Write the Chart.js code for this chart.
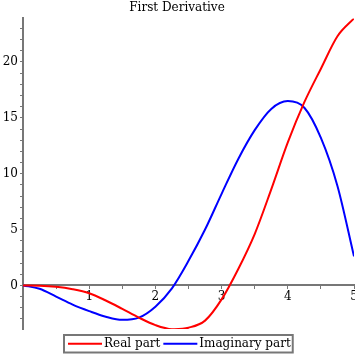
<!DOCTYPE html>
<html><head><meta charset="utf-8">
<script src="https://cdn.jsdelivr.net/npm/chart.js@4"></script>
<style>html,body{margin:0;padding:0;background:#fff}</style>
</head><body>
<canvas id="c" width="355" height="355"></canvas>
<script>
const chartTitle = 'First Derivative';
const seriesNames = ['Real part', 'Imaginary part'];
const xValues  = [0, 0.25, 0.5, 0.75, 1, 1.25, 1.5, 1.75, 2, 2.25, 2.5, 2.75, 3, 3.25, 3.5, 3.75, 4, 4.25, 4.5, 4.75, 5];
const realPart = [0, -0.02, -0.12, -0.34, -0.7, -1.35, -2.1, -2.88, -3.55, -3.92, -3.78, -3.15, -1.25, 1.45, 4.6, 8.6, 12.8, 16.4, 19.4, 22.3, 23.9];
const imagPart = [0, -0.3, -1.0, -1.72, -2.3, -2.8, -3.08, -2.88, -1.9, -0.26, 2.2, 5.0, 8.2, 11.3, 13.9, 15.8, 16.5, 15.9, 13.2, 8.9, 2.6];
const xTickLabels = [1, 2, 3, 4, 5];
const yTickLabels = [0, 5, 10, 15, 20];

const FONT = "'DejaVu Serif', serif";
const AXIS = '#777777';

const boxLegend = {
  id: 'boxLegend',
  afterDraw(chart) {
    const ctx = chart.ctx;
    ctx.save();
    ctx.font = '12px ' + FONT;
    const items = chart.data.datasets.map(ds => ({text: ds.label, color: ds.borderColor, w: ctx.measureText(ds.label).width}));
    const padL = 4, lineLen = 34, gap = 2, between = 3, padR = 2;
    let total = padL + padR;
    items.forEach((it, i) => { total += lineLen + gap + it.w + (i ? between : 0); });
    const left = Math.round(178.5 - total / 2);
    const top = 335, h = 17.5;
    ctx.strokeStyle = AXIS; ctx.lineWidth = 2;
    ctx.strokeRect(left, top, total, h);
    let x = left + padL; const cy = top + h / 2;
    items.forEach((it, i) => {
      if (i) x += between;
      ctx.strokeStyle = it.color; ctx.lineWidth = 2;
      ctx.beginPath(); ctx.moveTo(x, cy); ctx.lineTo(x + lineLen, cy); ctx.stroke();
      x += lineLen + gap;
      ctx.fillStyle = '#000'; ctx.textBaseline = 'middle'; ctx.textAlign = 'left';
      ctx.fillText(it.text, x, cy + 0.5);
      x += it.w;
    });
    ctx.restore();
  }
};

const colors = ['#ff0000', '#0000ff'];
const series = [realPart, imagPart];

new Chart(document.getElementById('c'), {
  type: 'line',
  data: {
    datasets: series.map((vals, k) => ({
      label: seriesNames[k],
      data: xValues.map((x, i) => ({x: x, y: vals[i]})),
      borderColor: colors[k],
      backgroundColor: colors[k],
      borderWidth: 2,
      pointRadius: 0,
      cubicInterpolationMode: 'monotone',
      fill: false
    }))
  },
  options: {
    responsive: false,
    animation: false,
    devicePixelRatio: 1,
    layout: {padding: {left: 0, right: 1, top: 0, bottom: 26}},
    plugins: {
      legend: {display: false},
      tooltip: {enabled: false},
      title: {display: true, text: chartTitle, color: '#000', font: {family: FONT, size: 12, weight: 'normal'}, padding: {top: 1, bottom: 3}}
    },
    scales: {
      x: {
        type: 'linear', position: {y: 0}, min: 0, max: 5,
        afterBuildTicks: s => { s.ticks = []; for (let i = 0; i <= 10; i++) s.ticks.push({value: i * 0.5}); },
        afterFit: s => { s.paddingLeft = 0; s.paddingRight = 0; },
        ticks: {autoSkip: false, maxRotation: 0, padding: 1, color: '#000', font: {family: FONT, size: 12},
          callback: v => xTickLabels.includes(v) ? String(v) : ''},
        grid: {drawOnChartArea: false, drawTicks: true, tickLength: 3, color: AXIS},
        border: {display: true, color: AXIS, width: 2}
      },
      y: {
        type: 'linear', position: 'left', min: -3.9, max: 23.9,
        afterBuildTicks: s => { s.ticks = []; for (let v = -3; v <= 23; v++) s.ticks.push({value: v}); },
        afterFit: s => { s.width = 23; s.paddingTop = 0; s.paddingBottom = 0; },
        ticks: {autoSkip: false, padding: 2, color: '#000', font: {family: FONT, size: 12},
          callback: v => yTickLabels.includes(v) ? String(v) : ''},
        grid: {drawOnChartArea: false, drawTicks: true, tickLength: 3, color: AXIS},
        border: {display: true, color: AXIS, width: 2}
      }
    }
  },
  plugins: [boxLegend]
});
</script>
</body></html>
